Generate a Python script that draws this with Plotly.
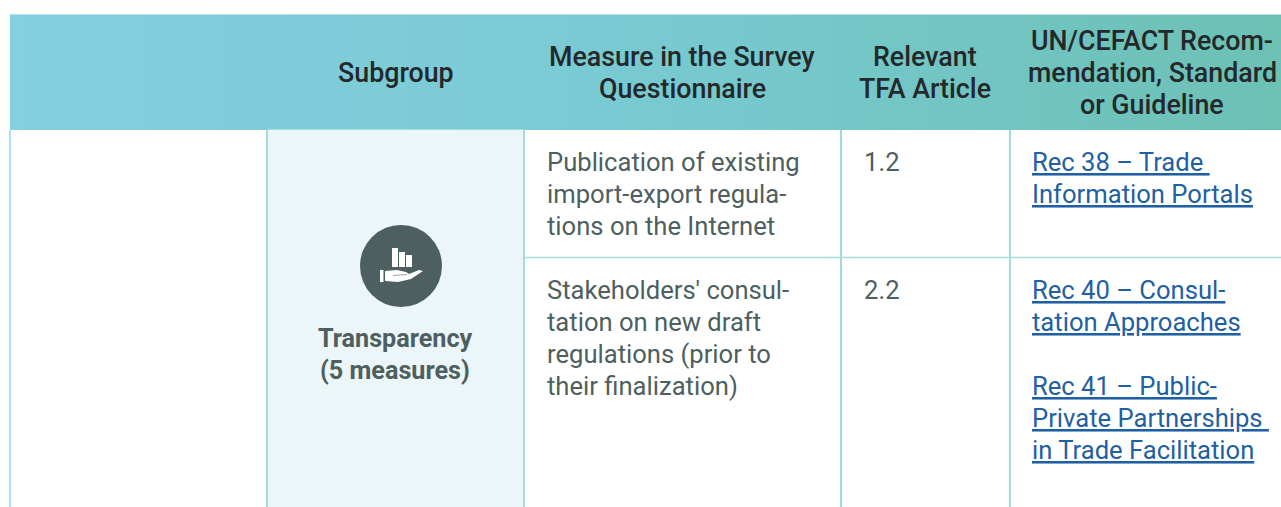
import plotly.graph_objects as go

# ---- content ----
header_labels = [["Subgroup"], ["Measure in the Survey", "Questionnaire"], ["Relevant", "TFA Article"],
                 ["UN/CEFACT Recom-", "mendation, Standard", "or Guideline"]]
subgroup_name = ["Transparency", "(5 measures)"]
measures = [["Publication of existing", "import-export regula-", "tions on the Internet"],
            ["Stakeholders' consul-", "tation on new draft", "regulations (prior to", "their finalization)"]]
articles = ["1.2", "2.2"]
links = [["Rec 38 – Trade\u00a0", "Information Portals"],
         ["Rec 40 – Consul-", "tation Approaches", "", "Rec 41 – Public-", "Private Partnerships\u00a0", "in Trade Facilitation"]]

# ---- layout ----
W, H = 1281, 507
col_edges = [10, 267, 524, 841, 1010]
header_top, header_bottom, row_split = 15, 130, 257.5
header_centers = [396, 682, 925, 1152]
header_mid = 73
row_first_line = [162, 290]
line_h = 32
gradient_stops = [[0, "#83D0E2"], [0.02, "#82CFDF"], [0.25, "#7ECCD9"], [0.5, "#78CAD1"], [0.75, "#72C5C3"], [1, "#6CC1B5"]]
line_col = "#A3DBDA"
font = "Roboto"

fig = go.Figure()
steps = 256
span = W - col_edges[0]
fig.add_trace(go.Heatmap(
    x=[col_edges[0] + i * span / steps for i in range(steps + 1)],
    y=[header_top, header_bottom],
    z=[list(range(steps))],
    colorscale=gradient_stops,
    showscale=False, hoverinfo="skip"))

shapes = [
    dict(type="rect", x0=col_edges[1], x1=col_edges[2], y0=header_bottom, y1=H, fillcolor="#ECF5F7", line_width=0),
    dict(type="line", x0=col_edges[0], x1=W, y0=14.5, y1=14.5, line=dict(color="#B3E3E6", width=1)),
    dict(type="line", x0=col_edges[1], x1=col_edges[2], y0=129.5, y1=129.5, line=dict(color="#A3DBDF", width=1)),
    dict(type="line", x0=col_edges[2], x1=W, y0=row_split, y1=row_split, line=dict(color=line_col, width=1.5)),
    dict(type="line", x0=col_edges[0], x1=col_edges[0], y0=header_bottom, y1=H, line=dict(color="#A9E2EC", width=2)),
]
for x in col_edges[1:]:
    shapes.append(dict(type="line", x0=x, x1=x, y0=header_bottom, y1=H, line=dict(color=line_col, width=2)))

# icon
icon_dark = "#4D5F60"
shapes.append(dict(type="circle", x0=360, x1=442, y0=225, y1=307, fillcolor=icon_dark, line_width=0))
for x0, x1, y0 in [(392, 398, 248), (399, 405, 252), (406, 412, 255)]:
    shapes.append(dict(type="rect", x0=x0, x1=x1, y0=y0, y1=267, fillcolor="white", line_width=0))
shapes.append(dict(type="rect", x0=380, x1=383.5, y0=270, y1=282, fillcolor="white", line_width=0))
shapes.append(dict(type="path",
    path="M385 271 L397 270 L406 272 L409 274 L419 270 L423 271 L411 279 L398 282 L385 281 Z",
    fillcolor="white", line_width=0))
shapes.append(dict(type="line", x0=393, x1=407, y0=275.5, y1=274.5, line=dict(color="#9AA6A7", width=1)))

ann = []
def text(x, y, s, size, color, anchor="left", weight=400, under=False):
    f = dict(family=font, size=size, color=color, weight=weight)
    if under:
        f["lineposition"] = "under"
    ann.append(dict(x=x, y=y, text=s, xref="x", yref="y", showarrow=False, xanchor=anchor,
                    yanchor="middle", align="center" if anchor == "center" else "left",
                    font=f, borderpad=0))

for cx, rows in zip(header_centers, header_labels):
    first = header_mid - (len(rows) - 1) * line_h / 2
    for i, s in enumerate(rows):
        text(cx, first + i * line_h, s, 26.8, "#23282A", "center", 500)
for i, s in enumerate(subgroup_name):
    text(395, 338 + i * line_h, s, 25.2, icon_dark, "center", 700)
for start, rows in zip(row_first_line, measures):
    for i, s in enumerate(rows):
        text(546, start + i * line_h, s, 25.6, icon_dark)
for start, a in zip(row_first_line, articles):
    text(863, start, a, 25.6, icon_dark)
for start, rows in zip(row_first_line, links):
    for i, s in enumerate(rows):
        if s:
            text(1031, start + i * line_h, s, 25.6, "#1F5FA3", under=True)

fig.update_layout(
    width=W, height=H, autosize=False, margin=dict(l=0, r=0, t=0, b=0),
    paper_bgcolor="white", plot_bgcolor="white", showlegend=False,
    xaxis=dict(range=[0, W], visible=False, fixedrange=True),
    yaxis=dict(range=[H, 0], visible=False, fixedrange=True),
    shapes=shapes, annotations=ann)
fig.write_html("out.html", config={"displayModeBar": False},
               post_script="document.body.style.margin='0';document.body.style.overflow='hidden';")
